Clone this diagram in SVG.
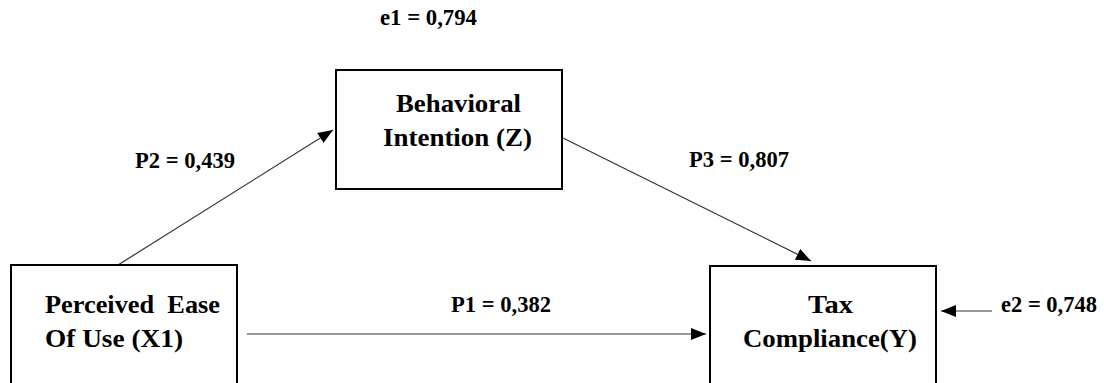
<svg xmlns="http://www.w3.org/2000/svg" width="1104" height="383" viewBox="0 0 1104 383">
<style>
.box{fill:#fff;stroke:#000;stroke-width:2}
.nt{font-family:'Liberation Serif','DejaVu Serif',serif;font-weight:700;font-size:26px;fill:#000}
.lt{font-family:'Liberation Serif','DejaVu Serif',serif;font-weight:700;font-size:23px;fill:#000}
.ln{stroke:#333;stroke-width:1.2;fill:none}
</style>
<defs>
<marker id="ah" viewBox="0 0 15 12" refX="15" refY="6" markerWidth="15" markerHeight="12" markerUnits="userSpaceOnUse" orient="auto">
<path d="M0,0 L15,6 L0,12 Z" fill="#000"/>
</marker>
</defs>
<rect width="1104" height="383" fill="#fff"/>
<g id="connectors">
<line class="ln" x1="118" y1="265" x2="333" y2="130" marker-end="url(#ah)"/>
<line class="ln" x1="563" y1="138" x2="811" y2="261" marker-end="url(#ah)"/>
<line class="ln" x1="247" y1="334" x2="706" y2="334" marker-end="url(#ah)"/>
<line class="ln" x1="992" y1="311" x2="941" y2="311" marker-end="url(#ah)"/>
</g>
<g id="node-behavioral">
<rect class="box" x="336" y="70" width="226" height="119"/>
<text class="nt" x="396" y="112" textLength="125" lengthAdjust="spacingAndGlyphs">Behavioral</text>
<text class="nt" x="383" y="146" textLength="149" lengthAdjust="spacingAndGlyphs">Intention (Z)</text>
</g>
<g id="node-perceived">
<rect class="box" x="11" y="265" width="226" height="130"/>
<text class="nt" x="45" y="313" textLength="175" lengthAdjust="spacingAndGlyphs" xml:space="preserve">Perceived  Ease</text>
<text class="nt" x="45" y="347" textLength="138" lengthAdjust="spacingAndGlyphs">Of Use (X1)</text>
</g>
<g id="node-tax">
<rect class="box" x="710" y="266" width="226" height="130"/>
<text class="nt" x="808" y="313" textLength="45" lengthAdjust="spacingAndGlyphs">Tax</text>
<text class="nt" x="743" y="347" textLength="174" lengthAdjust="spacingAndGlyphs">Compliance(Y)</text>
</g>
<g id="labels">
<text class="lt" x="380" y="25" textLength="97" lengthAdjust="spacingAndGlyphs">e1 = 0,794</text>
<text class="lt" x="135" y="168" textLength="100" lengthAdjust="spacingAndGlyphs">P2 = 0,439</text>
<text class="lt" x="689" y="167" textLength="100" lengthAdjust="spacingAndGlyphs">P3 = 0,807</text>
<text class="lt" x="451" y="312" textLength="100" lengthAdjust="spacingAndGlyphs">P1 = 0,382</text>
<text class="lt" x="1001" y="312" textLength="96" lengthAdjust="spacingAndGlyphs">e2 = 0,748</text>
</g>
</svg>
